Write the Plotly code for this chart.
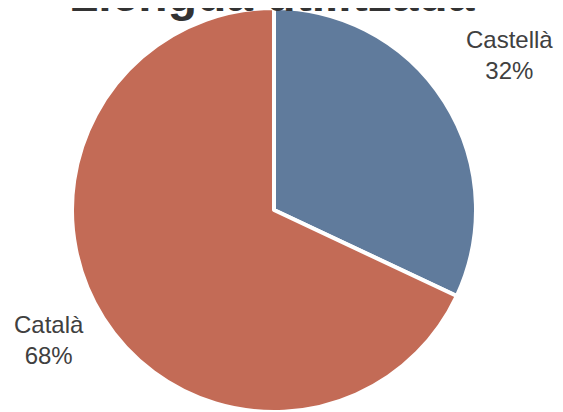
import plotly.graph_objects as go

labels = ["Castellà", "Català"]
values = [32, 68]
colors = ["#607b9c", "#c36b56"]
title_text = "Llengua utilitzada"

W, H = 563, 412
OFF = 8  # default page body margin
total = sum(values)
pct = [f"{round(v / total * 100)}%" for v in values]


def px(x):
    return (x - OFF) / W


def py(y):
    return 1 - (y - OFF) / H


R = 202
CX, CY = 274, OFF + R

fig = go.Figure(go.Pie(
    labels=labels,
    values=values,
    sort=False,
    direction="clockwise",
    rotation=0,
    marker=dict(colors=colors, line=dict(color="white", width=4)),
    textinfo="none",
    hoverinfo="label+percent",
    showlegend=False,
    domain=dict(x=[px(CX - R), px(CX + R)], y=[py(CY + R), 1.0]),
))

font_family = "Liberation Sans, Arial, sans-serif"
label_pos = [(509, 55), (49, 340)]
annotations = [
    dict(text=title_text, x=px(272), y=py(-6), xref="paper", yref="paper",
         xanchor="center", yanchor="middle", showarrow=False,
         font=dict(family=font_family, size=48, color="#333333", weight="bold")),
]
for lab, p, (ax, ay) in zip(labels, pct, label_pos):
    annotations.append(dict(text=f"{lab}<br>{p}", x=px(ax), y=py(ay), xref="paper", yref="paper",
                            xanchor="center", yanchor="middle", showarrow=False,
                            font=dict(family=font_family, size=24, color="#404040")))

fig.update_layout(
    width=W, height=H,
    margin=dict(l=0, r=0, t=0, b=0),
    paper_bgcolor="white",
    plot_bgcolor="white",
    annotations=annotations,
)

fig.write_html("out.html")
